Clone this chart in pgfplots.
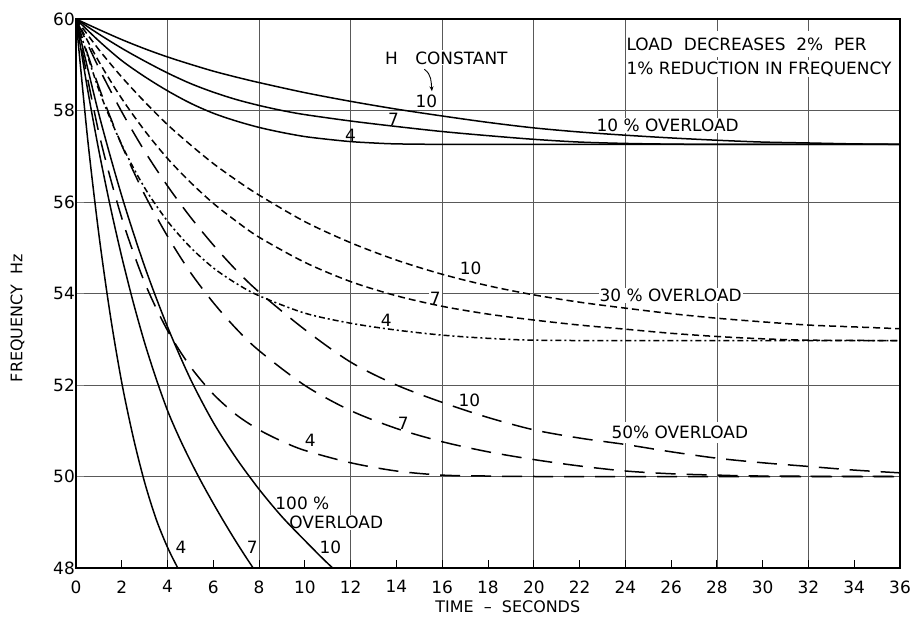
\documentclass[border=0pt]{standalone}
\usepackage{fontspec}
\setmainfont{DejaVu Sans}
\usepackage{pgfplots}
\pgfplotsset{compat=1.18}
\usetikzlibrary{arrows.meta}

% curve styles for the four overload cases
\tikzset{
  ovl10/.style={solid},
  ovl30/.style={dash pattern=on 7bp off 4bp},
  ovl30h4/.style={dash pattern=on 6bp off 3bp on 2bp off 3bp},
  ovl50/.style={dash pattern=on 20bp off 11bp},
  ovl100/.style={solid},
  lbl/.style={font=\fontsize{17}{20}\selectfont, inner sep=1bp},
  wlbl/.style={lbl, fill=white},
}

\begin{document}
\begin{tikzpicture}
\begin{axis}[
  scale only axis, width=824bp, height=549bp,
  xmin=0, xmax=36, ymin=48, ymax=60,
  xtick={0,2,...,36}, ytick={48,50,...,60},
  minor xtick={4,8,...,32},
  xminorgrids=true, ymajorgrids=true,
  minor grid style={black!65, line width=0.7bp},
  major grid style={black!65, line width=0.7bp},
  tick align=inside, tick pos=left,
  major tick length=8bp, minor tick length=0bp,
  xtick style={black, line width=0.8bp},
  axis line style={line width=1.5bp},
  /pgf/number format/assume math mode=true,
  tick label style={font=\fontsize{17}{20}\selectfont},
  yticklabel style={inner xsep=1bp},
  xticklabel style={yshift=-9bp},
  label style={font=\fontsize{16}{19}\selectfont},
  xlabel={TIME \ – \ SECONDS},
  ylabel={FREQUENCY \ Hz},
  xlabel style={at={(axis description cs:0.524,-0.071)}, anchor=center},
  ylabel style={at={(axis description cs:-0.071,0.455)}, anchor=center},
  every axis plot/.append style={line width=1.5bp, black, smooth, tension=0.5},
]
\coordinate (bl) at (rel axis cs:0,0);
\coordinate (tr) at (rel axis cs:1,1);

% annotations (drawn before the curves so their white boxes only break the grid)
\node[wlbl] at (axis cs:13.78,59.15) {H};
\node[wlbl] at (axis cs:16.84,59.15) {CONSTANT};
\draw[-{Stealth[length=5bp,width=4bp]}, line width=0.9bp]
  (axis cs:15.22,58.90) to[out=-35,in=95] (axis cs:15.55,58.42);
\node[lbl] at (axis cs:15.31,58.19) {10};
\node[lbl] at (axis cs:13.87,57.81) {7};
\node[lbl] at (axis cs:11.99,57.46) {4};
\node[wlbl] at (axis cs:25.85,57.68) {10 \% OVERLOAD};
\node[wlbl, anchor=west, minimum height=26bp] at (axis cs:24.0,59.45) {LOAD \ DECREASES \ 2\% \ PER};
\node[wlbl, anchor=west] at (axis cs:24.0,58.91) {1\% REDUCTION IN FREQUENCY};

\node[lbl] at (axis cs:17.24,54.54) {10};
\node[wlbl] at (axis cs:15.70,53.90) {7};
\node[lbl] at (axis cs:13.56,53.42) {4};
\node[wlbl] at (axis cs:25.98,53.95) {30 \% OVERLOAD};

\node[lbl] at (axis cs:17.19,51.67) {10};
\node[lbl] at (axis cs:14.30,51.17) {7};
\node[lbl] at (axis cs:10.24,50.78) {4};
\node[wlbl, inner xsep=6bp, inner ysep=4bp] at (axis cs:26.38,50.97) {50\% OVERLOAD};

\node[wlbl] at (axis cs:9.89,49.42) {100 \%};
\node[wlbl] at (axis cs:11.37,49.00) {OVERLOAD};
\node[lbl] at (axis cs:4.59,48.46) {4};
\node[wlbl] at (axis cs:7.70,48.46) {7};
\node[wlbl] at (axis cs:11.11,48.46) {10};

% 10 % overload
\addplot[ovl10] coordinates {(0,60)(1,59.52)(2,59.09)(3,58.74)(4,58.43)(5,58.16)(6,57.94)(7,57.77)(8,57.63)(9,57.52)(10,57.43)(11,57.37)(12,57.32)(13,57.29)(14,57.27)(16,57.26)(20,57.26)(28,57.26)(36,57.26)};
\addplot[ovl10] coordinates {(0,60)(1,59.67)(2,59.36)(3,59.08)(4,58.82)(5,58.59)(6,58.40)(7,58.24)(8,58.11)(9,58.00)(10,57.91)(12,57.77)(14,57.65)(16,57.54)(18,57.45)(20,57.37)(22,57.31)(24,57.28)(26,57.265)(28,57.26)(36,57.26)};
\addplot[ovl10] coordinates {(0,60)(1,59.77)(2,59.55)(3,59.35)(4,59.17)(5,59.01)(6,58.86)(7,58.73)(8,58.61)(10,58.39)(12,58.20)(14,58.03)(16,57.88)(18,57.74)(20,57.62)(22,57.53)(24,57.46)(26,57.40)(28,57.35)(30,57.31)(32,57.29)(34,57.27)(36,57.26)};

% 30 % overload
\addplot[ovl30h4] coordinates {(0,60)(1,58.45)(2,57.25)(3,56.31)(4,55.58)(5,55.01)(6,54.56)(7,54.22)(8,53.95)(10,53.57)(12,53.35)(14,53.20)(16,53.09)(18,53.02)(20,52.98)(24,52.97)(36,52.97)};
\addplot[ovl30] coordinates {(0,60)(1,59.07)(2,58.26)(3,57.56)(4,56.95)(5,56.43)(6,55.97)(7,55.58)(8,55.23)(10,54.68)(12,54.26)(14,53.95)(16,53.72)(18,53.55)(20,53.42)(22,53.31)(24,53.22)(26,53.13)(28,53.06)(30,53.01)(32,52.98)(36,52.97)};
\addplot[ovl30] coordinates {(0,60)(1,59.33)(2,58.73)(3,58.19)(4,57.69)(5,57.25)(6,56.84)(7,56.48)(8,56.15)(10,55.57)(12,55.11)(14,54.73)(16,54.42)(18,54.17)(20,53.97)(22,53.81)(24,53.68)(26,53.56)(28,53.46)(30,53.38)(32,53.31)(34,53.27)(36,53.23)};

% 50 % overload
\addplot[ovl50] coordinates {(0,60)(1,57.51)(2,55.65)(3,54.24)(4,53.19)(5,52.40)(6,51.80)(7,51.35)(8,51.02)(9,50.77)(10,50.57)(12,50.30)(14,50.12)(16,50.03)(18,50.01)(20,50.0)(36,50.0)};
\addplot[ovl50] coordinates {(0,60)(1,58.51)(2,57.24)(3,56.16)(4,55.25)(5,54.46)(6,53.80)(7,53.23)(8,52.75)(10,51.99)(12,51.44)(14,51.05)(16,50.76)(18,50.54)(20,50.37)(22,50.23)(24,50.12)(26,50.06)(28,50.03)(30,50.01)(36,50.0)};
\addplot[ovl50] coordinates {(0,60)(1,58.93)(2,57.97)(3,57.11)(4,56.35)(5,55.67)(6,55.06)(7,54.51)(8,54.03)(10,53.21)(12,52.50)(14,52.00)(16,51.62)(18,51.29)(20,51.02)(22,50.84)(24,50.70)(26,50.54)(28,50.40)(30,50.30)(32,50.22)(34,50.14)(36,50.08)};

% 100 % overload
\addplot[ovl100] coordinates {(0,60)(0.5,57.42)(1,55.29)(1.5,53.52)(2,52.05)(2.5,50.86)(3,49.87)(3.5,49.07)(4,48.45)(4.5,47.95)(5,47.5)};
\addplot[ovl100] coordinates {(0,60)(0.5,58.48)(1,57.12)(1.5,55.90)(2,54.80)(2.5,53.81)(3,52.92)(3.5,52.14)(4,51.44)(4.5,50.86)(5,50.34)(5.5,49.86)(6,49.41)(6.5,48.98)(7,48.57)(7.5,48.18)(8,47.81)(8.5,47.45)};
\addplot[ovl100] coordinates {(0,60)(1,57.92)(2,56.13)(3,54.59)(4,53.27)(5,52.13)(6,51.18)(7,50.40)(8,49.72)(9,49.12)(10,48.60)(11,48.10)(12,47.65)};
\end{axis}
\pgfresetboundingbox
\path[use as bounding box] ([shift={(-76bp,-52bp)}]bl) rectangle ([shift={(12bp,19bp)}]tr);
\end{tikzpicture}
\end{document}
